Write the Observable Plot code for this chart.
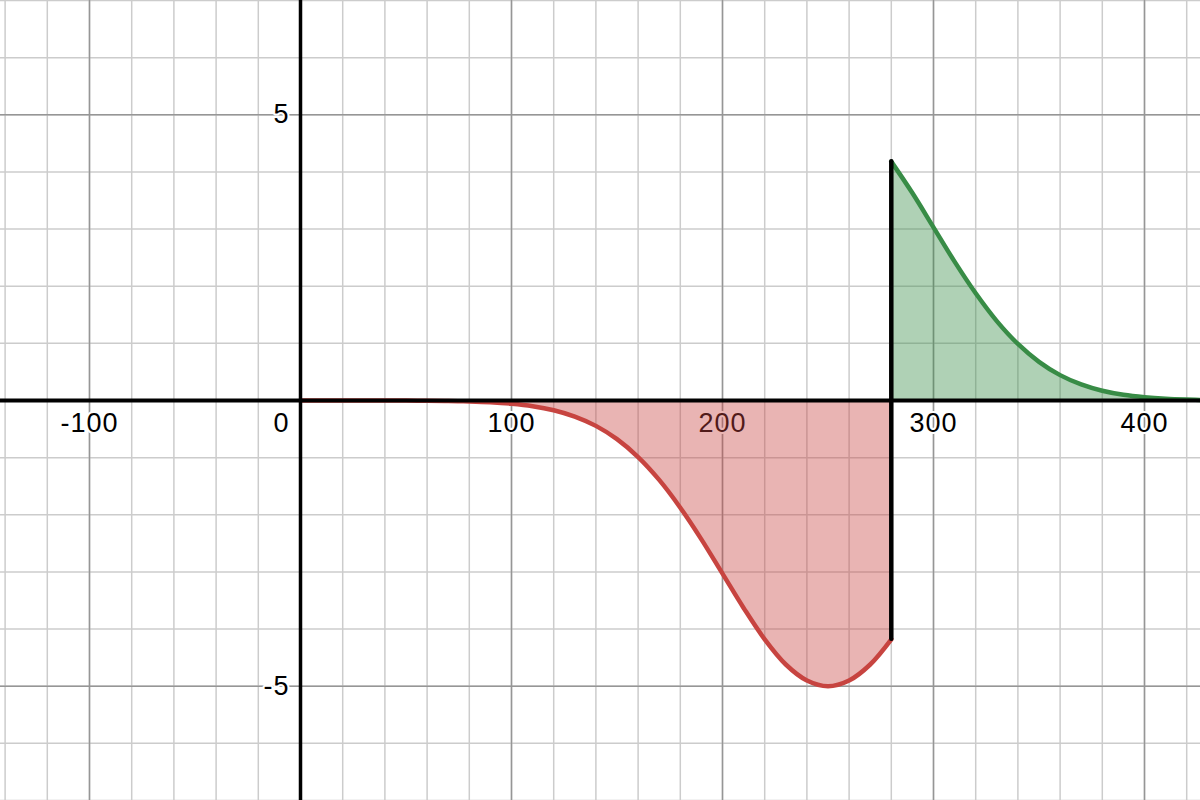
<!DOCTYPE html>
<html>
<head>
<meta charset="utf-8">
<script src="https://cdn.jsdelivr.net/npm/d3@7"></script>
<script src="https://cdn.jsdelivr.net/npm/@observablehq/plot@0.6"></script>
<style>
  html, body { margin: 0; padding: 0; background: #fff; }
  #chart svg { display: block; }
  #chart svg text { letter-spacing: 1px; }
</style>
</head>
<body>
<div id="chart"></div>
<script>
// Negative (red) part of the curve
const redX = [0, 20, 40, 50, 60, 70, 80, 90, 100, 110, 120, 130, 140, 150, 160, 170, 180, 190, 200, 210, 220, 230, 240, 250, 260, 270, 280];
const redY = [0, 0, -0.001, -0.002, -0.004, -0.008, -0.016, -0.03, -0.056, -0.099, -0.17, -0.281, -0.444, -0.677, -0.99, -1.39, -1.876, -2.43, -3.03, -3.63, -4.18, -4.62, -4.9, -5.0, -4.9, -4.62, -4.18];
// Positive (green) part of the curve
const greenX = [280, 290, 300, 310, 320, 330, 340, 350, 360, 370, 380, 390, 400, 410, 420, 430];
const greenY = [4.18, 3.63, 3.03, 2.43, 1.876, 1.39, 0.99, 0.677, 0.444, 0.281, 0.17, 0.099, 0.056, 0.03, 0.016, 0.008];
// Jump at x = 280
const jumpX = 280;
const jumpLow = -4.18;
const jumpHigh = 4.18;

// Axis tick labels
const xTickLabels = [-100, 100, 200, 300, 400];
const yTickLabels = [-5, 5];
const originLabel = [0];

// Grid
const xMinor = d3.range(-140, 441, 20);
const xMajor = [-100, 0, 100, 200, 300, 400];
const yMinor = d3.range(-7, 8, 1);
const yMajor = [-5, 0, 5];

const red = d3.zip(redX, redY).map(([x, y]) => ({x, y}));
const green = d3.zip(greenX, greenY).map(([x, y]) => ({x, y}));

const font = "Liberation Sans, Arial, sans-serif";
const fs = 27;

const plot = Plot.plot({
  width: 1200,
  height: 800,
  margin: 0,
  x: {domain: [-142.18, 426.54], axis: null},
  y: {domain: [-7, 7], axis: null},
  style: {background: "#fff", fontFamily: font},
  marks: [
    Plot.ruleX(xMinor, {stroke: "#cccccc", strokeWidth: 1.5}),
    Plot.ruleY(yMinor, {stroke: "#cccccc", strokeWidth: 1.5}),
    Plot.ruleX(xMajor, {stroke: "#969696", strokeWidth: 1.5}),
    Plot.ruleY(yMajor, {stroke: "#969696", strokeWidth: 1.5}),
    Plot.text(xTickLabels, {x: d => d, y: 0, text: d => String(d), dy: 23, fontSize: fs, fill: "#000", stroke: "#fff", strokeWidth: 4, textAnchor: "middle"}),
    Plot.text(originLabel, {x: d => d, y: 0, text: d => String(d), dy: 23, dx: -11, fontSize: fs, fill: "#000", stroke: "#fff", strokeWidth: 4, textAnchor: "end"}),
    Plot.text(yTickLabels, {x: 0, y: d => d, text: d => String(d), dx: -11, fontSize: fs, fill: "#000", stroke: "#fff", strokeWidth: 4, textAnchor: "end"}),
    Plot.areaY(red, {x: "x", y: "y", fill: "#c74440", fillOpacity: 0.4, curve: "catmull-rom"}),
    Plot.areaY(green, {x: "x", y: "y", fill: "#388c46", fillOpacity: 0.4, curve: "catmull-rom"}),
    Plot.line(red, {x: "x", y: "y", stroke: "#c74440", strokeWidth: 4.5, curve: "catmull-rom"}),
    Plot.line(green, {x: "x", y: "y", stroke: "#388c46", strokeWidth: 4.5, curve: "catmull-rom"}),
    Plot.ruleY([0], {stroke: "#000", strokeWidth: 4}),
    Plot.ruleX([0], {stroke: "#000", strokeWidth: 3.5}),
    Plot.ruleX([jumpX], {y1: jumpLow, y2: jumpHigh, stroke: "#000", strokeWidth: 4.5, strokeLinecap: "round"})
  ]
});
document.getElementById("chart").appendChild(plot);
</script>
</body>
</html>
